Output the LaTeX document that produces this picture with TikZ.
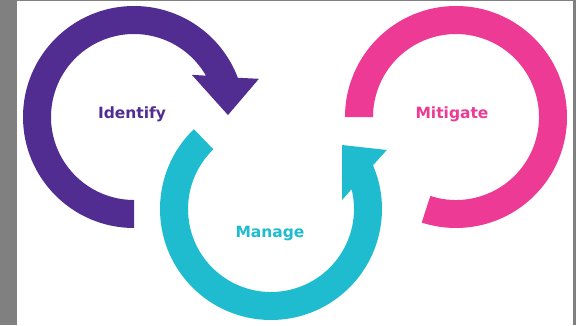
\documentclass[tikz,border=0pt]{standalone}
\usepackage{fontspec}
\setmainfont{DejaVu Sans}
\usetikzlibrary{calc}
\definecolor{idpurple}{RGB}{81,45,145}
\definecolor{mgteal}{RGB}{30,188,206}
\definecolor{mtpink}{RGB}{236,58,149}
\definecolor{frame}{RGB}{128,128,128}
\tikzset{
  ringfill/.style={fill=#1, draw=none},
  label/.style={text=#1, font=\fontsize{15.5}{18}\selectfont\bfseries, anchor=base, inner sep=0pt}
}
\begin{document}
\begin{tikzpicture}[x=1pt, y=1pt]
  \useasboundingbox (0,0) rectangle (576,325);
  % grey frame and white sheet
  \fill[frame] (0,0) rectangle (576,325);
  \fill[white] (17,0) rectangle (573,324);

  % ring centres
  \coordinate (cid) at (134,208);
  \coordinate (cmg) at (271,116);
  \coordinate (cmt) at (456,208);

  % Identify: clockwise arrow from the bottom round to the right
  \fill[ringfill=idpurple]
    ($(cid)+(270:111)$) arc[start angle=270, end angle=20.7, radius=111]
    -- ($(cid)+(17:130.6)$) -- ($(cid)+(1.2:94)$) -- ($(cid)+(36:71.6)$)
    -- ($(cid)+(29.9:83)$) arc[start angle=29.9, end angle=270, radius=83]
    -- cycle;

  % Manage: counter-clockwise arrow from the upper left round to the upper right
  \fill[ringfill=mgteal]
    ($(cmg)+(134:111)$) arc[start angle=134, end angle=383.2, radius=111]
    -- ($(cmg)+(27:130)$) -- ($(cmg)+(42:95.6)$) -- ($(cmg)+(7.2:71.6)$)
    -- ($(cmg)+(13.8:83)$) arc[start angle=373.8, end angle=134, radius=83]
    -- cycle;

  % Mitigate: open ring without a head
  \fill[ringfill=mtpink]
    ($(cmt)+(180:111)$) arc[start angle=180, end angle=-108, radius=111]
    -- ($(cmt)+(-108:83)$) arc[start angle=-108, end angle=180, radius=83]
    -- cycle;

  % captions
  \node[label=idpurple] (tid) at (132,207) {Identify};
  \node[label=mgteal]   (tmg) at (270,88)  {Manage};
  \node[label=mtpink]   (tmt) at (452,207) {Mitigate};
\end{tikzpicture}
\end{document}
